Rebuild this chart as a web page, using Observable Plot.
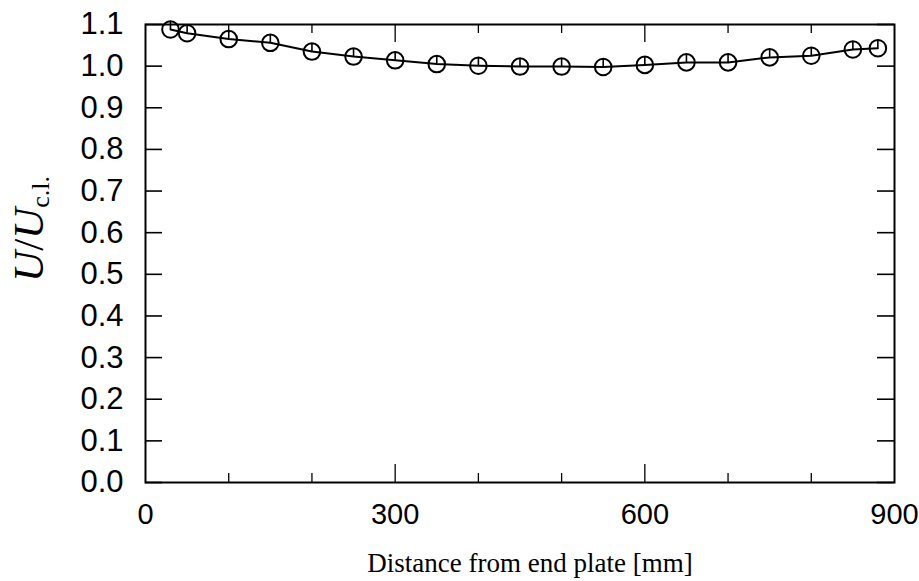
<!DOCTYPE html>
<html><head><meta charset="utf-8">
<script src="https://cdn.jsdelivr.net/npm/d3@7"></script>
<script src="https://cdn.jsdelivr.net/npm/@observablehq/plot@0.6"></script>
<style>body{margin:0;background:#fff}</style>
</head><body><div id="chart"></div>
<script>
const distance = [30, 50, 100, 150, 200, 250, 300, 350, 400, 450, 500, 550, 600, 650, 700, 750, 800, 850, 880];
const ratio = [1.088, 1.079, 1.065, 1.056, 1.035, 1.023, 1.014, 1.005, 1.001, 0.999, 0.999, 0.998, 1.003, 1.009, 1.009, 1.021, 1.025, 1.040, 1.043];
const yTicks = [0, 0.1, 0.2, 0.3, 0.4, 0.5, 0.6, 0.7, 0.8, 0.9, 1.0, 1.1];
const xLabelTicks = [0, 300, 600, 900];
const xMinorTicks = [100, 200, 400, 500, 700, 800];
const xMajorTicks = [300, 600];

const data = distance.map((d, i) => ({x: d, y: ratio[i]}));
const W = 919, H = 581, mL = 145, mR = 25, mT = 24, mB = 99;
const xDom = [0, 900], yDom = [0, 1.1];
const pxX = (xDom[1]-xDom[0])/(W-mL-mR);
const pxY = (yDom[1]-yDom[0])/(H-mT-mB);

const plot = Plot.plot({
  width: W, height: H,
  marginLeft: mL, marginRight: mR, marginTop: mT, marginBottom: mB,
  style: {fontFamily: "'Liberation Sans', Arial, sans-serif", color: "#000", background: "#fff"},
  x: {domain: xDom},
  y: {domain: yDom},
  marks: [
    Plot.axisY(yTicks, {tickSize: 0, tickPadding: 22, tickFormat: d => d.toFixed(1), fontSize: 31, label: null, fill: "#000"}),
    Plot.axisX(xLabelTicks, {tickSize: 0, tickPadding: 21, fontSize: 29, label: null, fill: "#000"}),
    Plot.ruleY(yTicks, {y: d => d, x1: xDom[0], x2: xDom[0] + 17*pxX, stroke: "#000", strokeWidth: 1.6}),
    Plot.ruleY(yTicks, {y: d => d, x1: xDom[1] - 17*pxX, x2: xDom[1], stroke: "#000", strokeWidth: 1.6}),
    Plot.ruleX(xMinorTicks, {x: d => d, y1: yDom[0], y2: yDom[0] + 9*pxY, stroke: "#000", strokeWidth: 1.3}),
    Plot.ruleX(xMajorTicks, {x: d => d, y1: yDom[0], y2: yDom[0] + 18*pxY, stroke: "#000", strokeWidth: 1.3}),
    Plot.ruleX(xMinorTicks, {x: d => d, y1: yDom[1] - 9*pxY, y2: yDom[1], stroke: "#000", strokeWidth: 1.3}),
    Plot.ruleX(xMajorTicks, {x: d => d, y1: yDom[1] - 18*pxY, y2: yDom[1], stroke: "#000", strokeWidth: 1.3}),
    Plot.frame({stroke: "#000", strokeWidth: 2}),
    Plot.line(data, {x: "x", y: "y", stroke: "#000", strokeWidth: 2}),
    Plot.ruleX(data, {x: "x", y1: "y", y2: d => d.y + 8*pxY, stroke: "#000", strokeWidth: 1.6}),
    Plot.dot(data, {x: "x", y: "y", r: 8.3, stroke: "#000", strokeWidth: 2, fill: "none"})
  ]
});
document.getElementById("chart").appendChild(plot);

const svg = d3.select(plot);
const yl = svg.append("text")
  .attr("transform", "translate(43,229) rotate(-90)")
  .attr("text-anchor", "middle")
  .attr("font-family", "'Liberation Serif', 'DejaVu Serif', serif")
  .attr("font-size", 43)
  .attr("fill", "#000");
yl.append("tspan").attr("font-style", "italic").text("U");
yl.append("tspan").text("/");
yl.append("tspan").attr("font-style", "italic").text("U");
yl.append("tspan").attr("font-size", 26).attr("dy", 6).text("c.l.");

svg.append("text")
  .attr("x", 530).attr("y", 572)
  .attr("text-anchor", "middle")
  .attr("font-family", "'Liberation Serif', 'DejaVu Serif', serif")
  .attr("font-size", 27)
  .attr("fill", "#000")
  .text("Distance from end plate [mm]");
</script>
</body></html>
